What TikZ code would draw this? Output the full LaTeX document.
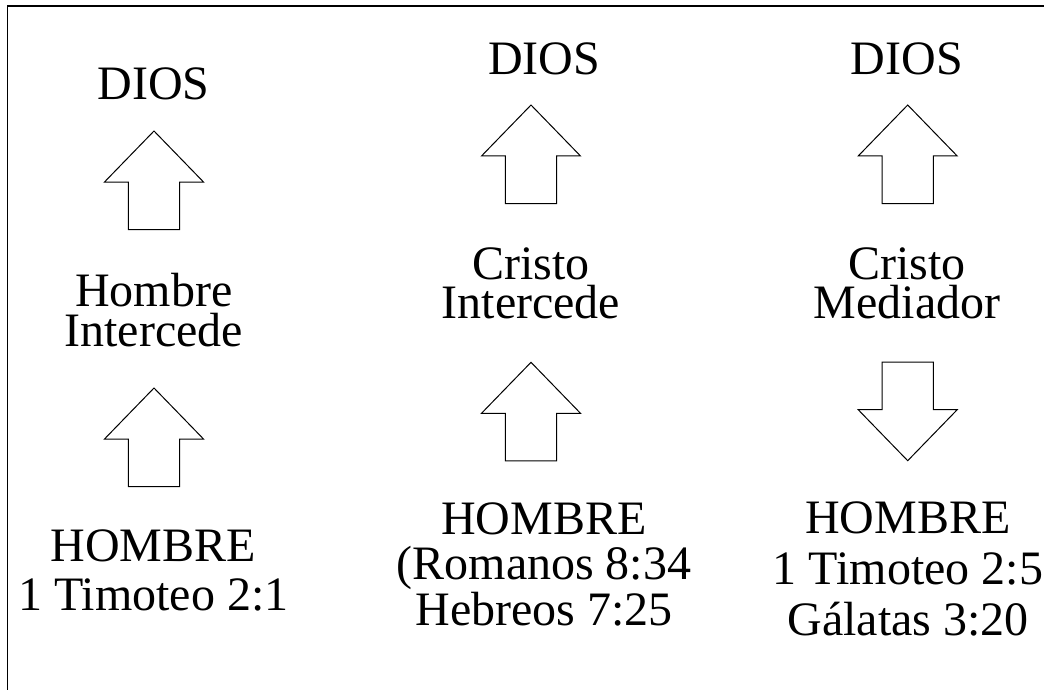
\documentclass[tikz,border=0pt]{standalone}
\usepackage{fontspec}
\setmainfont{Liberation Serif}
\usepackage{tikz}

\begin{document}
\begin{tikzpicture}[x=1pt,y=-1pt,
    txt/.style={font=\fontsize{48}{#1}\selectfont,align=center,anchor=base,inner sep=0pt},
    txt/.default=48,
    blockarrow/.style={draw,line width=1pt,line join=miter}]
      \useasboundingbox (0,0) rectangle (1044,690);
      \draw[line width=1.3pt] (1070,6) -- (7.3,6) -- (7.3,710);

      % columna 1 (base = ultima linea)
      \node[txt] (dios1) at (153.7,100) {DIOS};
      \node[txt=40] (medio1) at (153.7,346.7) {Hombre\\Intercede};
      \node[txt=49] (hombre1) at (153.3,610.7) {HOMBRE\\1 Timoteo 2:1};
      % columna 2
      \node[txt] (dios2) at (544.3,75) {DIOS};
      \node[txt=39] (medio2) at (531,318) {Cristo\\Intercede};
      \node[txt=45.5] (hombre2) at (544,625) {HOMBRE\\(Romanos 8:34\\Hebreos 7:25};
      % columna 3
      \node[txt] (dios3) at (906.7,75) {DIOS};
      \node[txt=39] (medio3) at (907,318) {Cristo\\Mediador};
      \node[txt=51] (hombre3) at (908,635) {HOMBRE\\1 Timoteo 2:5\\G\'alatas 3:20};

      % flechas: punta x/y, d=1 arriba, d=-1 abajo
      \foreach \x/\y/\d in {154/131/1,154/388/1,531/105/1,531/362.3/1,907.7/105/1,907.7/460.7/-1} {
        \draw[blockarrow] (\x,\y) -- ++(49.5,51*\d) -- ++(-23.8,0) -- ++(0,47.5*\d)
          -- ++(-51.4,0) -- ++(0,-47.5*\d) -- ++(-23.8,0) -- cycle;
      }
    \end{tikzpicture}
\end{document}
